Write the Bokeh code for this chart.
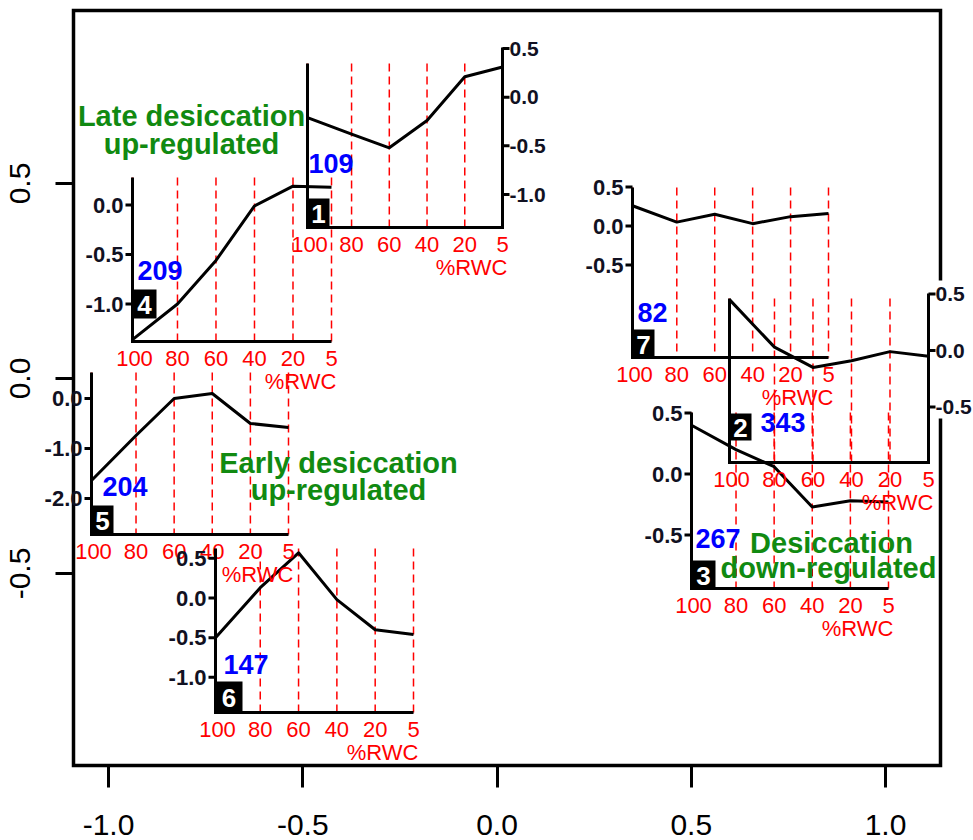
from bokeh.plotting import figure
from bokeh.models import Range1d, LinearAxis, FixedTicker
from bokeh.core.properties import value
from bokeh.embed import file_html
from bokeh.resources import INLINE

# ---------------- data ----------------
rwc_labels = ["100", "80", "60", "40", "20", "5"]
main_x_ticks = [-1.0, -0.5, 0.0, 0.5, 1.0]
main_x_tick_labels = ["-1.0", "-0.5", "0.0", "0.5", "1.0"]
main_y_ticks = [-0.5, 0.0, 0.5]
main_y_tick_labels = ["-0.5", "0.0", "0.5"]

cluster_ids = [1, 2, 3, 4, 5, 6, 7]
cluster_sizes = [109, 343, 267, 209, 204, 147, 82]

profile_1 = [-0.21, -0.38, -0.52, -0.24, 0.21, 0.31]
profile_2 = [0.45, 0.03, -0.15, -0.09, -0.01, -0.05]
profile_3 = [0.40, 0.20, 0.06, -0.27, -0.22, -0.23]
profile_4 = [-1.36, -1.00, -0.56, -0.01, 0.19, 0.18]
profile_5 = [-1.64, -0.74, 0.00, 0.10, -0.50, -0.58]
profile_6 = [-0.50, 0.13, 0.57, -0.02, -0.40, -0.46]
profile_7 = [0.26, 0.05, 0.15, 0.03, 0.12, 0.16]

yticks_1 = [0.5, 0.0, -0.5, -1.0]
yticks_2 = [0.5, 0.0, -0.5]
yticks_3 = [0.5, 0.0, -0.5]
yticks_4 = [0.0, -0.5, -1.0]
yticks_5 = [0.0, -1.0, -2.0]
yticks_6 = [0.5, 0.0, -0.5, -1.0]
yticks_7 = [0.5, 0.0, -0.5]

group_labels = [["Late desiccation", "up-regulated"],
                ["Early desiccation", "up-regulated"],
                ["Desiccation", "down-regulated"]]

profiles = [profile_1, profile_2, profile_3, profile_4, profile_5, profile_6, profile_7]
yticks = [yticks_1, yticks_2, yticks_3, yticks_4, yticks_5, yticks_6, yticks_7]

# ---------------- layout (pixel placement of the insets) ----------------
W, H = 973, 840
def mx(px):
    return -1.0 + (px - 108.0) / 388.5
def my(py):
    return (378.0 - py) / 390.0

rwc_frac = [0.0, 0.226, 0.4195, 0.613, 0.8065, 1.0]

layout = [
    dict(L=307, R=502, T=63, B=227, y0=96.7, ppu=97.3, side="right", atop=47, box=(198, 227, 22), num=(308, 163)),
    dict(L=729, R=928, T=298, B=462, y0=350.0, ppu=113.0, side="right", atop=293, box=(413, 440, 22), num=(760, 422)),
    dict(L=691, R=888, T=412, B=588, y0=473.5, ppu=122.0, side="left", atop=412, box=(560, 588, 24), num=(695, 538)),
    dict(L=132, R=331, T=177, B=341, y0=204.5, ppu=99.0, side="left", atop=177, box=(289, 318, 24), num=(137, 270)),
    dict(L=91, R=288, T=372, B=534, y0=398.0, ppu=50.0, side="left", atop=372, box=(505, 534, 22), num=(102, 486)),
    dict(L=215, R=413, T=548, B=712, y0=597.5, ppu=79.3, side="left", atop=548, box=(681, 712, 27), num=(223, 664)),
    dict(L=632, R=828, T=187, B=357, y0=225.5, ppu=78.0, side="left", atop=187, box=(329, 357, 22), num=(637, 312)),
]
group_pos = [[(191, 115), (191, 143)], [(338, 462), (338, 489)], [(831, 542), (828, 567)]]

FONT = value("Liberation Sans")

p = figure(width=W, height=H, x_range=Range1d(mx(0), mx(W)), y_range=Range1d(my(H), my(0)),
           x_axis_type=None, y_axis_type=None, toolbar_location=None, output_backend="svg",
           min_border=0)
p.outline_line_color = None
p.xgrid.visible = False
p.ygrid.visible = False
p.background_fill_color = "white"
p.border_fill_color = "white"

# main axes (fixed at the frame edges)
xaxis = LinearAxis(fixed_location=my(765), ticker=FixedTicker(ticks=main_x_ticks),
                   major_label_overrides={t: l for t, l in zip(main_x_ticks, main_x_tick_labels)})
yaxis = LinearAxis(fixed_location=mx(73), ticker=FixedTicker(ticks=main_y_ticks),
                   major_label_overrides={t: l for t, l in zip(main_y_ticks, main_y_tick_labels)},
                   major_label_orientation="vertical")
for ax, tout, stand in ((xaxis, 22, 27), (yaxis, 18, 26)):
    ax.axis_line_color = None
    ax.major_tick_in = 0
    ax.major_tick_out = tout
    ax.major_tick_line_width = 3
    ax.minor_tick_line_color = None
    ax.major_label_text_font = "Liberation Sans"
    ax.major_label_text_font_size = "30px"
    ax.major_label_text_color = "black"
    ax.major_label_standoff = stand
p.add_layout(xaxis, "below")
p.add_layout(yaxis, "left")

# main frame
p.quad(left=[mx(73)], right=[mx(940)], top=[my(10)], bottom=[my(765)],
       fill_color=None, line_color="black", line_width=3.5, line_join="miter")
# white area behind inset 2's right labels (hides the frame there)
p.quad(left=[mx(933)], right=[mx(W)], top=[my(280)], bottom=[my(418)],
       fill_color="white", line_color=None)

def ix(g, k):
    return mx(g["L"] + rwc_frac[k] * (g["R"] - g["L"]))
def iy(g, v):
    return my(g["y0"] - v * g["ppu"])

# dashed grid lines
for g in layout:
    xs = [ix(g, k) for k in range(6)]
    p.segment(x0=xs, x1=xs, y0=[my(g["T"])] * 6, y1=[my(g["B"])] * 6,
              line_color="red", line_width=1.5, line_dash="8 5")

# profiles
for g, prof in zip(layout, profiles):
    p.line([ix(g, k) for k in range(6)], [iy(g, v) for v in prof],
           line_color="black", line_width=3, line_join="round")

# inset axes, ticks, labels
for g, tks, cid, size in zip(layout, yticks, cluster_ids, cluster_sizes):
    L, R, T, B = g["L"], g["R"], g["T"], g["B"]
    if g["side"] == "right":
        p.line([mx(L), mx(L), mx(R), mx(R)], [my(T), my(B), my(B), my(g["atop"])],
               line_color="black", line_width=3, line_join="miter")
        ty = [iy(g, t) for t in tks]
        p.segment(x0=[mx(R)] * len(tks), x1=[mx(R + 7)] * len(tks), y0=ty, y1=ty,
                  line_color="black", line_width=3)
        p.text(x=[mx(R + 7)] * len(tks), y=ty, text=["%.1f" % t for t in tks],
               text_font=FONT, text_font_style="bold", text_font_size="21px",
               text_align="left", text_baseline="middle", text_color="#111122")
    else:
        p.line([mx(L), mx(L), mx(R)], [my(g["atop"]), my(B), my(B)],
               line_color="black", line_width=3, line_join="miter")
        ty = [iy(g, t) for t in tks]
        p.segment(x0=[mx(L)] * len(tks), x1=[mx(L - 7)] * len(tks), y0=ty, y1=ty,
                  line_color="black", line_width=3)
        p.text(x=[mx(L - 9)] * len(tks), y=ty, text=["%.1f" % t for t in tks],
               text_font=FONT, text_font_style="bold", text_font_size="22px",
               text_align="right", text_baseline="middle", text_color="#111122")
    # red x labels
    xs = [ix(g, k) for k in range(6)]
    xs[0] = mx(L + 2)
    p.text(x=xs, y=[my(B + 17)] * 6, text=rwc_labels, text_font=FONT, text_font_size="22px",
           text_align="center", text_baseline="middle", text_color="red")
    p.text(x=[mx(R + 5)], y=[my(B + 40)], text=["%RWC"], text_font=FONT, text_font_size="22px",
           text_align="right", text_baseline="middle", text_color="red")
    # cluster box
    bt, bb, bw = g["box"]
    p.quad(left=[mx(L)], right=[mx(L + bw)], top=[my(bt)], bottom=[my(bb)],
           fill_color="black", line_color=None)
    p.text(x=[mx(L + bw / 2.0)], y=[my((bt + bb) / 2.0 + 1)], text=[str(cid)], text_font=FONT,
           text_font_style="bold", text_font_size="26px", text_align="center",
           text_baseline="middle", text_color="white")
    nx, ny = g["num"]
    p.text(x=[mx(nx)], y=[my(ny)], text=[str(size)], text_font=FONT, text_font_style="bold",
           text_font_size="27px", text_align="left", text_baseline="middle", text_color="#0000FF")

# group labels
for lines, pos in zip(group_labels, group_pos):
    p.text(x=[mx(px) for px, py in pos], y=[my(py) for px, py in pos], text=lines,
           text_font=FONT, text_font_style="bold", text_font_size="29px",
           text_align="center", text_baseline="middle", text_color="#118a11")

open("out.html", "w").write(file_html(p, INLINE))
